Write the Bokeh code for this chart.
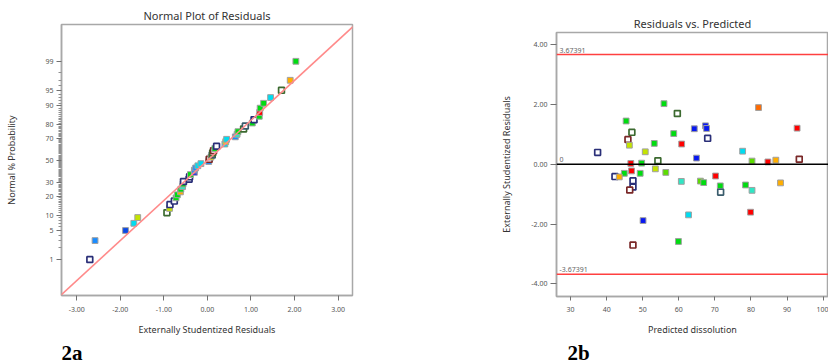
from statistics import NormalDist
from bokeh.plotting import figure
from bokeh.models import FixedTicker, Slope, Span, Label, Range1d, ColumnDataSource, Title
from bokeh.layouts import row, column
from bokeh.embed import file_html
from bokeh.resources import INLINE

# ---------------- data ----------------
# Normal plot: sorted externally studentized residuals and their normal % probability
np_resid = [-2.70, -2.58, -1.88, -1.69, -1.60, -0.93, -0.87, -0.86, -0.76, -0.72,
            -0.69, -0.62, -0.61, -0.57, -0.56, -0.55, -0.42, -0.41, -0.39, -0.30,
            -0.30, -0.27, -0.22, -0.15, 0.03, 0.04, 0.08, 0.11, 0.12, 0.14,
            0.17, 0.21, 0.40, 0.42, 0.44, 0.64, 0.68, 0.70, 0.83, 0.87,
            1.03, 1.07, 1.19, 1.20, 1.21, 1.29, 1.45, 1.70, 1.90, 2.03]
np_pct = [1, 3, 5, 7, 9, 11, 13, 15, 17, 19, 21, 23, 25, 27, 29, 31, 33, 35, 37, 39,
          41, 43, 45, 47, 49, 51, 53, 55, 57, 59, 61, 63, 65, 67, 69, 71, 73, 75, 77, 79,
          81, 83, 85, 87, 89, 91, 93, 95, 97, 99]
np_col = ["N", "az", "dblue", "cyan", "yg", "G", "yg", "N", "N", "green",
          "green", "org", "green", "teal", "green", "N", "N", "N", "green", "blue",
          "az", "az", "cyan", "cyan", "az", "R", "yel", "S", "G", "R",
          "green", "N", "cyan", "yel", "cyan", "az", "teal", "green", "G", "S",
          "green", "N", "green", "red", "green", "green", "cyan", "G", "org", "green"]
# reference line (z = slope * residual + intercept)
ref_slope = 0.94
ref_intercept = 0.0

prob_major = [1, 5, 10, 20, 30, 50, 70, 80, 90, 95, 99]
prob_minor = ([2, 3, 4, 6, 7, 8, 9] + list(range(11, 20)) + list(range(21, 30)) +
              list(range(31, 50)) + list(range(51, 70)) + list(range(71, 80)) +
              list(range(81, 90)) + [91, 92, 93, 94, 96, 97, 98])
res_xticks = [-3, -2, -1, 0, 1, 2, 3]

# Residuals vs predicted
pred = [55.9, 59.6, 45.4, 47.0, 45.9, 46.3, 53.2, 58.6, 60.8, 64.3,
        67.4, 67.7, 68.0, 64.9, 37.5, 50.7, 46.7, 49.7, 54.2, 53.5,
        56.4, 44.9, 46.9, 49.3, 42.3, 43.5, 47.3, 47.3, 46.4, 60.7,
        66.0, 66.9, 50.1, 62.7, 82.1, 92.8, 77.7, 80.3, 84.7, 86.9,
        93.4, 70.2, 71.5, 71.6, 78.5, 80.3, 88.2, 79.9, 59.9, 47.3]
resid = [2.03, 1.70, 1.45, 1.07, 0.83, 0.64, 0.70, 1.03, 0.68, 1.19,
         1.29, 1.20, 0.87, 0.21, 0.40, 0.42, 0.03, 0.04, 0.12, -0.15,
         -0.27, -0.30, -0.22, -0.30, -0.41, -0.42, -0.55, -0.76, -0.86, -0.57,
         -0.56, -0.61, -1.88, -1.69, 1.90, 1.21, 0.44, 0.11, 0.08, 0.14,
         0.17, -0.39, -0.72, -0.93, -0.69, -0.87, -0.62, -1.60, -2.58, -2.70]
rv_col = ["green", "G", "green", "G", "R", "yg", "green", "green", "red", "blue",
          "blue", "blue", "N", "blue", "N", "yg", "red", "green", "G", "yg",
          "lg", "green", "red", "green", "N", "org", "N", "N", "R", "teal",
          "lg", "green", "blue", "cyan", "dorg", "red", "cyan", "lg", "red", "org",
          "R", "red", "green", "S", "green", "teal", "org", "red", "green", "R"]
limit_hi = 3.67391
limit_lo = -3.67391
rv_xticks = [30, 40, 50, 60, 70, 80, 90, 100]
rv_yticks = [-4, -2, 0, 2, 4]

# ---------------- styles ----------------
FILLED = {"blue": "#0818f0", "dblue": "#0a48e6", "az": "#1a8cff", "cyan": "#00dcf0",
          "teal": "#30e6c4", "green": "#00dc10", "lg": "#5cdc00", "yg": "#c4e400",
          "yel": "#ecd400", "org": "#ffae00", "dorg": "#ff6a00", "red": "#ff0000"}
OPEN = {"N": "#2a2f78", "G": "#3c6a30", "R": "#7a2828", "S": "#3a5c6c"}
FONT = "Noto Sans"


def marker_cols(codes):
    fill, line, lw, size = [], [], [], []
    for c in codes:
        if c in OPEN:
            fill.append("white"); line.append(OPEN[c]); lw.append(1.7); size.append(5.8)
        else:
            fill.append(FILLED[c]); line.append("#a0a0a0"); lw.append(1.0); size.append(5.8)
    return dict(fill=fill, line=line, lw=lw, size=size)


def style_axes(p):
    for ax in (p.xaxis[0], p.yaxis[0]):
        ax.axis_line_color = "#a8a8a8"
        ax.axis_line_width = 1.5
        ax.major_tick_line_color = "#707070"
        ax.minor_tick_line_color = "#909090"
        ax.major_label_text_font = FONT
        ax.major_label_text_font_size = "7px"
        ax.major_label_text_color = "#555555"
        ax.axis_label_text_font = FONT
        ax.axis_label_text_font_size = "9px"
        ax.axis_label_text_font_style = "normal"
        ax.axis_label_text_color = "#333333"
    p.xgrid.visible = False
    p.ygrid.visible = False
    p.outline_line_color = "#a8a8a8"
    p.outline_line_width = 1.5
    p.title.text_font = FONT
    p.title.text_font_size = "11px"
    p.title.text_font_style = "normal"
    p.title.text_color = "#333333"
    p.title.align = "center"
    p.title.offset = 0


def panel_tag(p, text, shift):
    p.add_layout(Title(text=text, align="left", offset=shift, standoff=0,
                       text_line_height=0.85,
                       text_font="Liberation Serif", text_font_style="bold",
                       text_font_size="21px", text_color="black"), "below")


nd = NormalDist()
z_of = nd.inv_cdf

# ---------------- left: normal plot ----------------
p1 = figure(width=496, height=364, output_backend="svg", toolbar_location=None,
            title="Normal Plot of Residuals",
            x_range=Range1d(-3.35, 3.33), y_range=Range1d(-3.17, 3.19),
            min_border_left=61, min_border_right=144, min_border_top=24, min_border_bottom=69)
style_axes(p1)
p1.title.standoff = 3

major_z = [z_of(v / 100) for v in prob_major]
minor_z = [z_of(v / 100) for v in prob_minor]
p1.yaxis[0].ticker = FixedTicker(ticks=major_z, minor_ticks=minor_z)
p1.yaxis[0].major_label_overrides = {z: str(v) for z, v in zip(major_z, prob_major)}
p1.yaxis[0].major_tick_out = 5
p1.yaxis[0].major_tick_in = 0
p1.yaxis[0].minor_tick_out = 3
p1.yaxis[0].minor_tick_in = 0
p1.yaxis[0].major_label_standoff = 3
p1.yaxis[0].axis_label = "Normal % Probability"
p1.yaxis[0].axis_label_standoff = 24

p1.xaxis[0].ticker = FixedTicker(ticks=res_xticks, minor_ticks=[])
p1.xaxis[0].major_label_overrides = {t: f"{t:.2f}" for t in res_xticks}
p1.xaxis[0].major_tick_out = 5
p1.xaxis[0].major_tick_in = 0
p1.xaxis[0].major_label_standoff = 6
p1.xaxis[0].axis_label = "Externally Studentized Residuals"
p1.xaxis[0].axis_label_standoff = 8

p1.add_layout(Slope(gradient=ref_slope, y_intercept=ref_intercept,
                    line_color="#ff8a8a", line_width=1.6))

src1 = ColumnDataSource(dict(x=np_resid, z=[z_of(v / 100) for v in np_pct], **marker_cols(np_col)))
p1.scatter("x", "z", source=src1, marker="square", size="size", fill_color="fill",
           line_color="line", line_width="lw")
panel_tag(p1, "2a", 0)

# ---------------- right: residuals vs predicted ----------------
p2 = figure(width=332, height=364, output_backend="svg", toolbar_location=None,
            title="Residuals vs. Predicted",
            x_range=Range1d(26.1, 101.5), y_range=Range1d(-4.42, 4.41),
            min_border_left=60, min_border_right=0, min_border_top=32, min_border_bottom=67)
style_axes(p2)
p2.title.standoff = 3

p2.xaxis[0].ticker = FixedTicker(ticks=rv_xticks, minor_ticks=[])
p2.xaxis[0].major_tick_out = 4
p2.xaxis[0].major_tick_in = 0
p2.xaxis[0].major_label_standoff = 6
p2.xaxis[0].axis_label = "Predicted dissolution"
p2.xaxis[0].axis_label_standoff = 8

p2.yaxis[0].ticker = FixedTicker(ticks=rv_yticks, minor_ticks=[])
p2.yaxis[0].major_label_overrides = {t: f"{t:.2f}" for t in rv_yticks}
p2.yaxis[0].major_tick_out = 6
p2.yaxis[0].major_tick_in = 0
p2.yaxis[0].major_label_standoff = 3
p2.yaxis[0].axis_label = "Externally Studentized Residuals"
p2.yaxis[0].axis_label_standoff = 15

p2.add_layout(Span(location=limit_hi, dimension="width", line_color="#ff4040", line_width=1.5))
p2.add_layout(Span(location=limit_lo, dimension="width", line_color="#ff4040", line_width=1.5))
p2.add_layout(Span(location=0, dimension="width", line_color="black", line_width=1.5))

xmin = p2.x_range.start
for val, txt in ((limit_hi, f"{limit_hi}"), (limit_lo, f"{limit_lo}"), (0, "0")):
    p2.add_layout(Label(x=xmin, y=val, x_offset=3, y_offset=2, text=txt,
                        text_font=FONT, text_font_size="7px", text_color="#666666",
                        text_baseline="bottom"))

src2 = ColumnDataSource(dict(x=pred, y=resid, **marker_cols(rv_col)))
p2.scatter("x", "y", source=src2, marker="square", size="size", fill_color="fill",
           line_color="line", line_width="lw")
panel_tag(p2, "2b", 11)

layout = row(column(p1), column(p2))
open("out.html", "w").write(file_html(layout, INLINE))
